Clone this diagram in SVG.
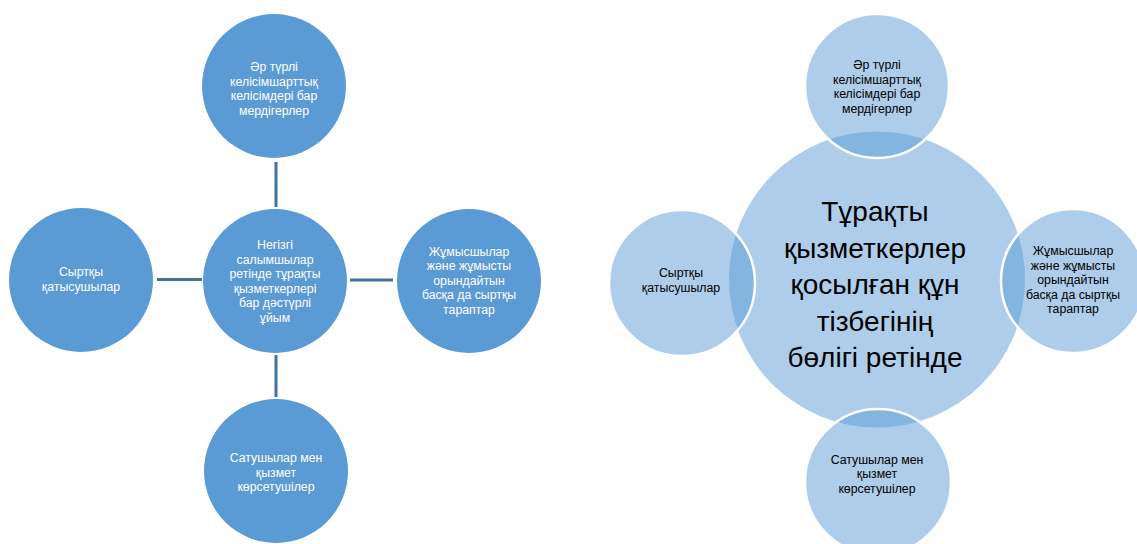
<svg xmlns="http://www.w3.org/2000/svg" width="1137" height="544" viewBox="0 0 1137 544">
<style>
.dk{fill:#5b9bd5}
.lt{fill:#5b9bd5;fill-opacity:0.5}
.sm{stroke:#ffffff;stroke-width:2.5}
.conn{stroke:#41719c;stroke-width:3;fill:none}
text{font-family:"Liberation Sans",Arial,sans-serif;text-anchor:middle}
.tw{fill:#ffffff;font-size:12.3px}
.tb{fill:#000000;font-size:12.3px}
.big{fill:#000000;font-size:28px}
</style>
<rect width="1137" height="544" fill="#ffffff"/>
<g id="connectors">
<line class="conn" x1="276" y1="162" x2="276" y2="207"/>
<line class="conn" x1="276" y1="355" x2="276" y2="397"/>
<line class="conn" x1="157" y1="279.5" x2="202" y2="279.5"/>
<line class="conn" x1="350" y1="280" x2="393" y2="280"/>
</g>
<g id="l-top">
<circle class="dk" cx="274" cy="86" r="72"/>
<text class="tw"><tspan x="274" y="71">Әр түрлі</tspan><tspan x="274" y="85.5">келісімшарттық</tspan><tspan x="274" y="100">келісімдері бар</tspan><tspan x="274" y="114.5">мердігерлер</tspan></text>
</g>
<g id="l-center">
<circle class="dk" cx="275" cy="281" r="72"/>
<text class="tw"><tspan x="275" y="249">Негізгі</tspan><tspan x="275" y="263.5">салымшылар</tspan><tspan x="275" y="278">ретінде тұрақты</tspan><tspan x="275" y="292.5">қызметкерлері</tspan><tspan x="275" y="307">бар дәстүрлі</tspan><tspan x="275" y="321.5">ұйым</tspan></text>
</g>
<g id="l-left">
<circle class="dk" cx="81" cy="280" r="72"/>
<text class="tw"><tspan x="81" y="276">Сыртқы</tspan><tspan x="81" y="290.5">қатысушылар</tspan></text>
</g>
<g id="l-right">
<circle class="dk" cx="469" cy="281" r="72"/>
<text class="tw"><tspan x="469" y="255.5">Жұмысшылар</tspan><tspan x="469" y="270">және жұмысты</tspan><tspan x="469" y="284.5">орындайтын</tspan><tspan x="469" y="299">басқа да сыртқы</tspan><tspan x="469" y="313.5">тараптар</tspan></text>
</g>
<g id="l-bottom">
<circle class="dk" cx="276" cy="471" r="72"/>
<text class="tw"><tspan x="276" y="462">Сатушылар мен</tspan><tspan x="276" y="476.5">қызмет</tspan><tspan x="276" y="491">көрсетушілер</tspan></text>
</g>
<g id="r-center">
<circle class="lt" cx="877" cy="279.5" r="148"/>
</g>
<g id="r-top">
<circle class="lt sm" cx="877" cy="86" r="72"/>
<text class="tb"><tspan x="877" y="69">Әр түрлі</tspan><tspan x="877" y="83.5">келісімшарттық</tspan><tspan x="877" y="98">келісімдері бар</tspan><tspan x="877" y="112.5">мердігерлер</tspan></text>
</g>
<g id="r-left">
<circle class="lt sm" cx="682" cy="283" r="73"/>
<text class="tb"><tspan x="681" y="277">Сыртқы</tspan><tspan x="681" y="291.5">қатысушылар</tspan></text>
</g>
<g id="r-right">
<circle class="lt sm" cx="1073" cy="281" r="72"/>
<text class="tb"><tspan x="1073" y="255">Жұмысшылар</tspan><tspan x="1073" y="269.5">және жұмысты</tspan><tspan x="1073" y="284">орындайтын</tspan><tspan x="1073" y="298.5">басқа да сыртқы</tspan><tspan x="1073" y="313">тараптар</tspan></text>
</g>
<g id="r-bottom">
<circle class="lt sm" cx="878" cy="482" r="73"/>
<text class="tb"><tspan x="877" y="463.5">Сатушылар мен</tspan><tspan x="877" y="478">қызмет</tspan><tspan x="877" y="492.5">көрсетушілер</tspan></text>
</g>
<g id="r-center-label">
<text class="big"><tspan x="875" y="221">Тұрақты</tspan><tspan x="875" y="257.5">қызметкерлер</tspan><tspan x="875" y="294">қосылған құн</tspan><tspan x="875" y="330.5">тізбегінің</tspan><tspan x="875" y="367">бөлігі ретінде</tspan></text>
</g>
</svg>
